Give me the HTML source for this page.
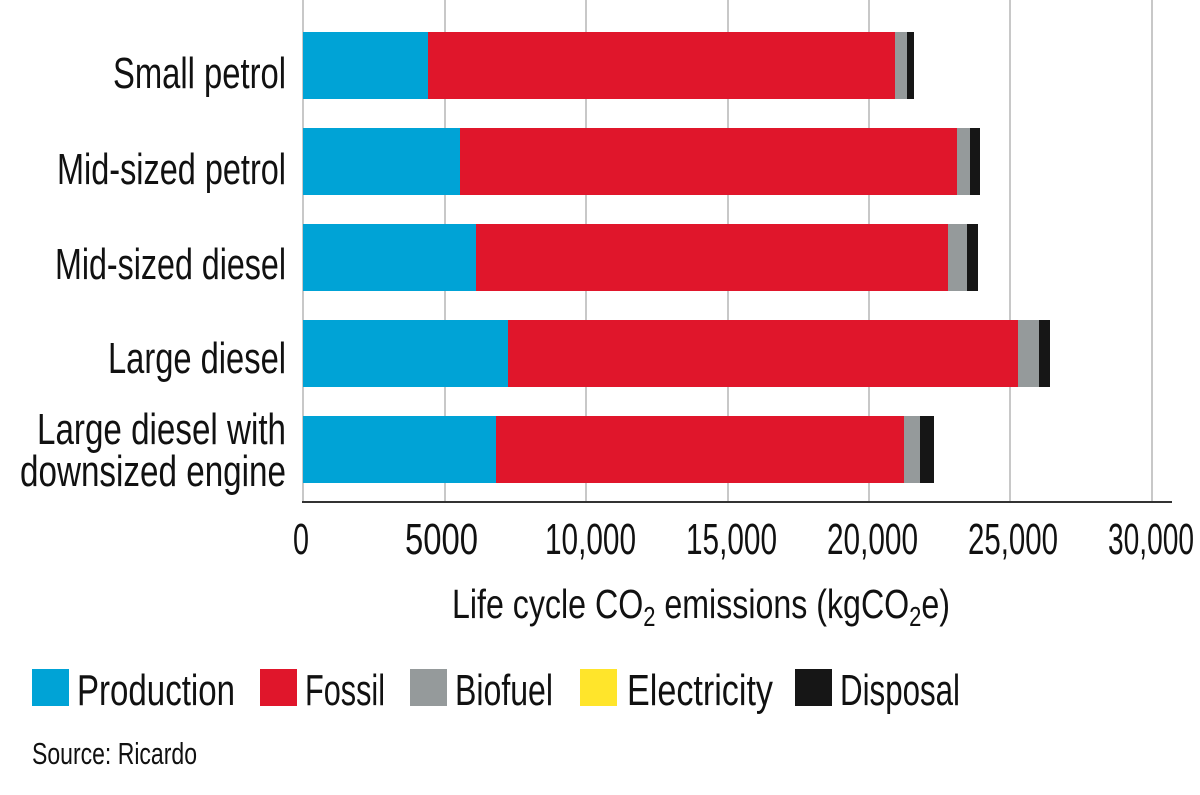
<!DOCTYPE html>
<html><head><meta charset="utf-8"><style>
html,body{margin:0;padding:0;background:#fff;}
svg{display:block;}
text{font-family:"Liberation Sans",sans-serif;fill:#111;}
</style></head><body>
<svg width="1200" height="795" viewBox="0 0 1200 795" xmlns="http://www.w3.org/2000/svg">
<g stroke="#c8c8c8" stroke-width="2">
<line x1="445" y1="0" x2="445" y2="502"/>
<line x1="586" y1="0" x2="586" y2="502"/>
<line x1="728" y1="0" x2="728" y2="502"/>
<line x1="869" y1="0" x2="869" y2="502"/>
<line x1="1010" y1="0" x2="1010" y2="502"/>
<line x1="1152" y1="0" x2="1152" y2="502"/>
</g>
<line x1="303" y1="0" x2="303" y2="502" stroke="#c8c8c8" stroke-width="2"/>
<g>
<rect x="303" y="32" width="125" height="67" fill="#00a3d6"/><rect x="428" y="32" width="467" height="67" fill="#e0162b"/><rect x="895" y="32" width="12" height="67" fill="#959a9b"/><rect x="907" y="32" width="7" height="67" fill="#161616"/>
<rect x="303" y="128" width="157" height="67" fill="#00a3d6"/><rect x="460" y="128" width="497" height="67" fill="#e0162b"/><rect x="957" y="128" width="13" height="67" fill="#959a9b"/><rect x="970" y="128" width="10" height="67" fill="#161616"/>
<rect x="303" y="224" width="173" height="67" fill="#00a3d6"/><rect x="476" y="224" width="472" height="67" fill="#e0162b"/><rect x="948" y="224" width="19" height="67" fill="#959a9b"/><rect x="967" y="224" width="11" height="67" fill="#161616"/>
<rect x="303" y="320" width="205" height="67" fill="#00a3d6"/><rect x="508" y="320" width="510" height="67" fill="#e0162b"/><rect x="1018" y="320" width="21" height="67" fill="#959a9b"/><rect x="1039" y="320" width="11" height="67" fill="#161616"/>
<rect x="303" y="416" width="193" height="67" fill="#00a3d6"/><rect x="496" y="416" width="408" height="67" fill="#e0162b"/><rect x="904" y="416" width="16" height="67" fill="#959a9b"/><rect x="920" y="416" width="14" height="67" fill="#161616"/>
</g>
<line x1="302" y1="502" x2="1172" y2="502" stroke="#333" stroke-width="2"/>
<g font-size="44">
<text x="113" y="88" textLength="173" lengthAdjust="spacingAndGlyphs">Small petrol</text>
<text x="57" y="184" textLength="229" lengthAdjust="spacingAndGlyphs">Mid-sized petrol</text>
<text x="55" y="279" textLength="231" lengthAdjust="spacingAndGlyphs">Mid-sized diesel</text>
<text x="108" y="373" textLength="178" lengthAdjust="spacingAndGlyphs">Large diesel</text>
<text x="37" y="444" textLength="249" lengthAdjust="spacingAndGlyphs">Large diesel with</text>
<text x="20" y="486" textLength="266" lengthAdjust="spacingAndGlyphs">downsized engine</text>
</g>
<g font-size="44">
<text x="293" y="554" textLength="16" lengthAdjust="spacingAndGlyphs">0</text>
<text x="405" y="554" textLength="73" lengthAdjust="spacingAndGlyphs">5000</text>
<text x="545" y="554" textLength="91" lengthAdjust="spacingAndGlyphs">10,000</text>
<text x="686" y="554" textLength="91" lengthAdjust="spacingAndGlyphs">15,000</text>
<text x="827" y="554" textLength="91" lengthAdjust="spacingAndGlyphs">20,000</text>
<text x="968" y="554" textLength="90" lengthAdjust="spacingAndGlyphs">25,000</text>
<text x="1108" y="554" textLength="86" lengthAdjust="spacingAndGlyphs">30,000</text>
</g>
<text x="452" y="618" font-size="41" textLength="498" lengthAdjust="spacingAndGlyphs">Life cycle CO<tspan font-size="28" dy="8">2</tspan><tspan dy="-8"> emissions (kgCO</tspan><tspan font-size="28" dy="8">2</tspan><tspan dy="-8">e)</tspan></text>
<rect x="32" y="669" width="37" height="37" fill="#00a3d6"/>
<rect x="260" y="669" width="37" height="37" fill="#e0162b"/>
<rect x="410" y="669" width="37" height="37" fill="#959a9b"/>
<rect x="580" y="669" width="37" height="37" fill="#ffe52b"/>
<rect x="795" y="669" width="37" height="37" fill="#161616"/>
<g font-size="44">
<text x="77" y="705" textLength="158" lengthAdjust="spacingAndGlyphs">Production</text>
<text x="305" y="705" textLength="80" lengthAdjust="spacingAndGlyphs">Fossil</text>
<text x="455" y="705" textLength="98" lengthAdjust="spacingAndGlyphs">Biofuel</text>
<text x="627" y="705" textLength="146" lengthAdjust="spacingAndGlyphs">Electricity</text>
<text x="840" y="705" textLength="120" lengthAdjust="spacingAndGlyphs">Disposal</text>
</g>
<text x="32" y="764" font-size="31" textLength="165" lengthAdjust="spacingAndGlyphs">Source: Ricardo</text>
</svg>
</body></html>
